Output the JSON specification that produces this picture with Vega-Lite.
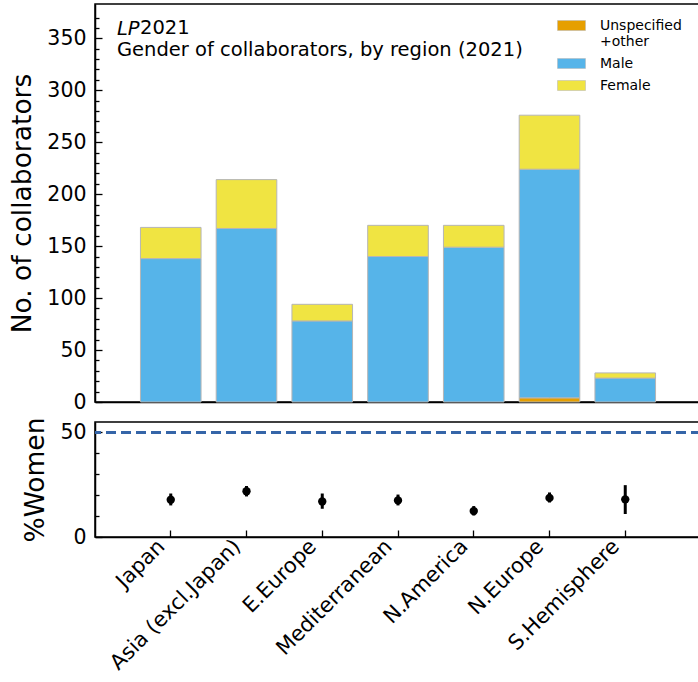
{
  "$schema": "https://vega.github.io/schema/vega-lite/v6.json",
  "padding": {"left": 9, "top": 3, "right": 0, "bottom": 0},
  "bounds": "flush",
  "spacing": 20,
  "config": {
    "font": "DejaVu Sans",
    "view": {"stroke": "black", "strokeWidth": 1.5},
    "axis": {"grid": false, "domainColor": "black", "domainWidth": 1.5, "tickColor": "black", "tickWidth": 1.3, "labelColor": "black", "titleColor": "black", "labelFont": "DejaVu Sans", "titleFont": "DejaVu Sans", "labelFontSize": 20.5, "titleFontSize": 26.5, "titleFontWeight": "normal", "labelOverlap": false}
  },
  "title": {"text": "2021", "anchor": "start", "frame": "group", "fontSize": 19.5, "fontWeight": "normal", "color": "black", "font": "DejaVu Sans", "offset": -35, "dx": 45},
  "vconcat": [
    {
      "width": 606,
      "height": 398,
      "title": {"text": "LP", "subtitle": "Gender of collaborators, by region (2021)", "anchor": "start", "frame": "group", "fontSize": 19.5, "subtitleFontSize": 19.5, "fontStyle": "italic", "fontWeight": "normal", "color": "black", "subtitleColor": "black", "font": "DejaVu Sans", "subtitleFont": "DejaVu Sans", "subtitlePadding": 1, "offset": -56, "dx": 22},
      "data": {"values": [
        {"region": "Japan", "gender": "Male", "count": 138},
        {"region": "Japan", "gender": "Female", "count": 30},
        {"region": "Asia (excl.Japan)", "gender": "Male", "count": 167},
        {"region": "Asia (excl.Japan)", "gender": "Female", "count": 47},
        {"region": "E.Europe", "gender": "Male", "count": 78},
        {"region": "E.Europe", "gender": "Female", "count": 16},
        {"region": "Mediterranean", "gender": "Male", "count": 140},
        {"region": "Mediterranean", "gender": "Female", "count": 30},
        {"region": "N.America", "gender": "Male", "count": 149},
        {"region": "N.America", "gender": "Female", "count": 21},
        {"region": "N.Europe", "gender": "Unspecified +other", "count": 4},
        {"region": "N.Europe", "gender": "Male", "count": 220},
        {"region": "N.Europe", "gender": "Female", "count": 52},
        {"region": "S.Hemisphere", "gender": "Male", "count": 23},
        {"region": "S.Hemisphere", "gender": "Female", "count": 5}
      ]},
      "mark": {"type": "bar", "stroke": "#b5b5b5", "strokeWidth": 1},
      "encoding": {
        "x": {"field": "region", "type": "nominal", "sort": null,
          "scale": {"domain": ["Japan", "Asia (excl.Japan)", "E.Europe", "Mediterranean", "N.America", "N.Europe", "S.Hemisphere"], "paddingInner": 0.2, "paddingOuter": 0.6},
          "axis": {"labels": false, "title": null, "tickSize": -7}},
        "y": {"field": "count", "type": "quantitative", "stack": "zero",
          "scale": {"domain": [0, 383], "nice": false, "zero": true},
          "axis": {"title": "No. of collaborators", "titlePadding": 10,
            "values": [0,10,20,30,40,50,60,70,80,90,100,110,120,130,140,150,160,170,180,190,200,210,220,230,240,250,260,270,280,290,300,310,320,330,340,350,360,370],
            "labelExpr": "datum.value % 50 === 0 ? datum.label : ''",
            "labelPadding": 16,
            "tickSize": {"condition": {"test": "datum.value % 50 === 0", "value": -7}, "value": -4}}},
        "color": {"field": "gender", "type": "nominal",
          "scale": {"domain": ["Unspecified +other", "Male", "Female"], "range": ["#E69F00", "#56B4E9", "#F0E442"]},
          "legend": {"title": null, "orient": "none", "legendX": 466, "legendY": 11, "padding": 0,
            "symbolType": "M-1.4,-0.5H1.4V0.5H-1.4Z", "symbolSize": 400, "symbolStrokeColor": "#b5b5b5", "symbolStrokeWidth": 0.5,
            "labelFontSize": 14, "labelColor": "black", "labelFont": "DejaVu Sans", "labelOffset": 18, "rowPadding": 4, "labelBaseline": "middle",
            "labelExpr": "datum.label === 'Unspecified +other' ? ['Unspecified', '+other'] : datum.label"}},
        "order": {"field": "gender", "sort": "descending"}
      }
    },
    {
      "width": 606,
      "height": 115,
      "layer": [
        {
          "data": {"values": [{"parity": 50}]},
          "mark": {"type": "rule", "color": "#3565a8", "strokeWidth": 3, "strokeDash": [10, 5]},
          "encoding": {
            "y": {"field": "parity", "type": "quantitative", "scale": {"domain": [0, 55], "nice": false},
              "axis": {"title": "%Women", "titlePadding": 10, "values": [0,10,20,30,40,50], "labelExpr": "datum.value % 50 === 0 ? datum.label : ''", "labelPadding": 16,
                "tickSize": {"condition": {"test": "datum.value % 50 === 0", "value": -7}, "value": -4}}}
          }
        },
        {
          "data": {"values": [
            {"region": "Japan", "pct": 17.8, "lo": 15.1, "hi": 20.8},
            {"region": "Asia (excl.Japan)", "pct": 21.9, "lo": 19.4, "hi": 24.4},
            {"region": "E.Europe", "pct": 17.0, "lo": 13.5, "hi": 20.8},
            {"region": "Mediterranean", "pct": 17.5, "lo": 15.1, "hi": 20.3},
            {"region": "N.America", "pct": 12.4, "lo": 10.3, "hi": 14.8},
            {"region": "N.Europe", "pct": 18.7, "lo": 16.5, "hi": 21.3},
            {"region": "S.Hemisphere", "pct": 18.0, "lo": 11.0, "hi": 24.8}
          ]},
          "encoding": {
            "x": {"field": "region", "type": "nominal", "sort": null,
              "scale": {"domain": ["Japan", "Asia (excl.Japan)", "E.Europe", "Mediterranean", "N.America", "N.Europe", "S.Hemisphere"], "paddingInner": 0.2, "paddingOuter": 0.6},
              "axis": {"title": null, "tickSize": -7, "labelAngle": -45, "labelAlign": "right", "labelBaseline": "middle", "labelFontSize": 21, "labelPadding": 13, "labelOffset": -9}}
          },
          "layer": [
            {
              "mark": {"type": "rule", "color": "black", "strokeWidth": 3},
              "encoding": {
                "y": {"field": "lo", "type": "quantitative", "scale": {"domain": [0, 55], "nice": false},
                  "axis": {"title": "%Women", "titlePadding": 10, "values": [0,10,20,30,40,50], "labelExpr": "datum.value % 50 === 0 ? datum.label : ''", "labelPadding": 16,
                    "tickSize": {"condition": {"test": "datum.value % 50 === 0", "value": -7}, "value": -4}}},
                "y2": {"field": "hi"}
              }
            },
            {
              "mark": {"type": "point", "filled": true, "color": "black", "opacity": 1, "size": 70},
              "encoding": {
                "y": {"field": "pct", "type": "quantitative", "scale": {"domain": [0, 55], "nice": false},
                  "axis": {"title": "%Women", "titlePadding": 10, "values": [0,10,20,30,40,50], "labelExpr": "datum.value % 50 === 0 ? datum.label : ''", "labelPadding": 16,
                    "tickSize": {"condition": {"test": "datum.value % 50 === 0", "value": -7}, "value": -4}}}
              }
            }
          ]
        }
      ]
    }
  ]
}
